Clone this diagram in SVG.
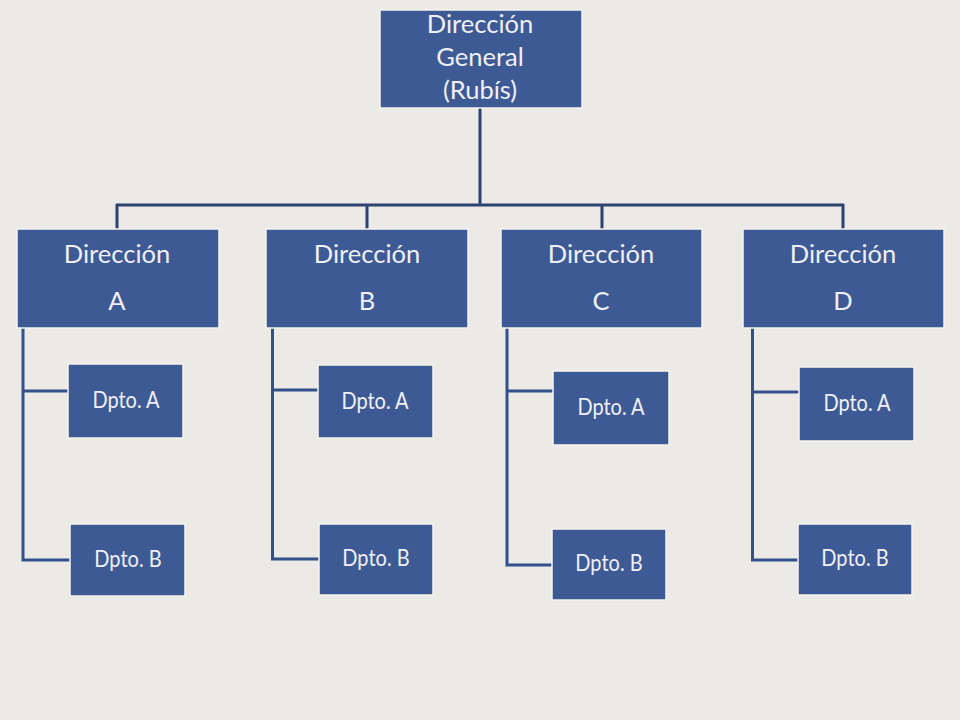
<svg xmlns="http://www.w3.org/2000/svg" width="960" height="720" viewBox="0 0 960 720">
<style>
.box{fill:#3E5A95;stroke:#F6F4EE;stroke-width:1.5}
.t{font-family:Lato,"Open Sans",sans-serif;fill:#EEF0F5;text-anchor:middle}
.big{font-size:25.5px}
.sm{font-size:20px}
.ln{fill:none;stroke:#2D4270;stroke-width:3}
.ln2{fill:none;stroke:#34508A;stroke-width:3}
</style>
<rect width="960" height="720" fill="#ECEAE6"/>
<g id="connectors">
<path class="ln" d="M480 108V205M116 205H844M117 204V229M367 204V229M602 204V229M843 204V229"/>
<path class="ln2" d="M23 327V560H71M23 391H69"/>
<path class="ln2" d="M272.5 327V559H319M272.5 390H318"/>
<path class="ln2" d="M507 327V565H553M507 391H554"/>
<path class="ln2" d="M752.5 327V560H798M752.5 392H800"/>
</g>
<g id="dg"><rect class="box" x="380" y="10" width="202" height="98"/>
<text class="t big" x="480" y="33">Dirección</text><text class="t big" x="480" y="66">General</text><text class="t big" x="480" y="99">(Rubís)</text></g>
<g id="dirA"><rect class="box" x="17" y="229" width="202" height="99"/>
<text class="t big" x="117" y="263">Dirección</text><text class="t big" x="117" y="310">A</text></g>
<g id="dirB"><rect class="box" x="266" y="229" width="202" height="99"/>
<text class="t big" x="367" y="263">Dirección</text><text class="t big" x="367" y="310">B</text></g>
<g id="dirC"><rect class="box" x="501" y="229" width="201" height="99"/>
<text class="t big" x="601" y="263">Dirección</text><text class="t big" x="601" y="310">C</text></g>
<g id="dirD"><rect class="box" x="743" y="229" width="201" height="99"/>
<text class="t big" x="843" y="263">Dirección</text><text class="t big" x="843" y="310">D</text></g>
<g id="aA"><rect class="box" x="68" y="364" width="115" height="74"/><text class="t sm" transform="translate(126 408) scale(1 1.18)">Dpto. A</text></g>
<g id="aB"><rect class="box" x="70" y="524" width="115" height="72"/><text class="t sm" transform="translate(128 567) scale(1 1.18)">Dpto. B</text></g>
<g id="bA"><rect class="box" x="318" y="365" width="115" height="73"/><text class="t sm" transform="translate(375 409) scale(1 1.18)">Dpto. A</text></g>
<g id="bB"><rect class="box" x="319" y="524" width="114" height="71"/><text class="t sm" transform="translate(376 566) scale(1 1.18)">Dpto. B</text></g>
<g id="cA"><rect class="box" x="553" y="371" width="116" height="74"/><text class="t sm" transform="translate(611 415) scale(1 1.18)">Dpto. A</text></g>
<g id="cB"><rect class="box" x="552" y="529" width="114" height="71"/><text class="t sm" transform="translate(609 571) scale(1 1.18)">Dpto. B</text></g>
<g id="dA"><rect class="box" x="799" y="367" width="115" height="74"/><text class="t sm" transform="translate(857 411) scale(1 1.18)">Dpto. A</text></g>
<g id="dB"><rect class="box" x="798" y="524" width="114" height="71"/><text class="t sm" transform="translate(855 566) scale(1 1.18)">Dpto. B</text></g>
</svg>
